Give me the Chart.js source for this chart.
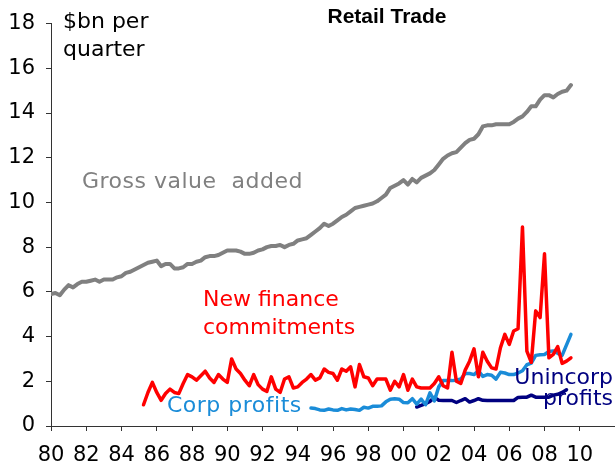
<!DOCTYPE html>
<html>
<head>
<meta charset="utf-8">
<script src="https://cdn.jsdelivr.net/npm/chart.js@4/dist/chart.umd.min.js"></script>
<style>
  body { margin: 0; background: #fff; }
  canvas { display: block; }
</style>
</head>
<body>
<canvas id="myChart" width="615" height="473"></canvas>
<script>
// quarterly series, $bn per quarter
let gvaStart = 1980;
let gva = [
    5.9, 5.95, 5.85, 6.1,   6.3, 6.2, 6.35, 6.45,   6.45, 6.5, 6.55, 6.45,
    6.55, 6.55, 6.55, 6.65, 6.7, 6.85, 6.9, 7.0,    7.1, 7.2, 7.3, 7.35,
    7.4, 7.15, 7.25, 7.25,  7.05, 7.05, 7.1, 7.25,  7.25, 7.35, 7.4, 7.55,
    7.6, 7.6, 7.65, 7.75,   7.85, 7.85, 7.85, 7.8,  7.7, 7.7, 7.75, 7.85,
    7.9, 8.0, 8.05, 8.05,   8.1, 8.0, 8.1, 8.15,    8.3, 8.35, 8.4, 8.55,
    8.7, 8.85, 9.05, 8.95,  9.05, 9.2, 9.35, 9.45,  9.6, 9.75, 9.8, 9.85,
    9.9, 9.95, 10.05, 10.2, 10.35, 10.65, 10.75, 10.85, 11.0, 10.8, 11.05, 10.9,
    11.1, 11.2, 11.3, 11.45, 11.7, 11.95, 12.1, 12.2, 12.25, 12.45, 12.65, 12.8,
    12.85, 13.05, 13.4, 13.45, 13.45, 13.5, 13.5, 13.5, 13.5, 13.6, 13.75, 13.85,
    14.05, 14.3, 14.3, 14.6, 14.8, 14.8, 14.7, 14.85, 14.95, 15.0, 15.25
];

let financeStart = 1985.25;
let finance = [
    0.95, 1.5, 1.95,
    1.5, 1.15, 1.45, 1.65,  1.5, 1.45, 1.9, 2.3,    2.2, 2.05, 2.25, 2.45,
    2.15, 1.95, 2.3, 2.1,   1.95, 3.0, 2.55, 2.35,  2.05, 1.8, 2.3, 1.85,
    1.65, 1.55, 2.2, 1.65,  1.5, 2.1, 2.2, 1.7,     1.75, 1.95, 2.1, 2.3,
    2.05, 2.15, 2.55, 2.4,  2.35, 2.05, 2.55, 2.45, 2.65, 1.75, 2.75, 2.2,
    2.15, 1.8, 2.1, 2.1,    2.1, 1.6, 2.0, 1.75,    2.3, 1.6, 2.1, 1.75,
    1.7, 1.7, 1.7, 1.9,     2.2, 1.8, 1.7, 3.3,     2.0, 1.9, 2.5, 2.9,
    3.45, 2.2, 3.3, 2.9,    2.6, 2.55, 3.5, 4.1,    3.65, 4.25, 4.35, 8.9,
    3.35, 2.85, 5.15, 4.85, 7.7, 3.05, 3.2, 3.55,   2.8, 2.9, 3.05
];

let corpStart = 1994.75;
let corp = [
    0.8,
    0.78, 0.72, 0.7, 0.76,  0.72, 0.7, 0.78, 0.72,  0.76, 0.74, 0.7, 0.84,
    0.8, 0.88, 0.88, 0.9,   1.08, 1.2, 1.22, 1.2,   1.05, 1.04, 1.22, 0.98,
    1.2, 0.95, 1.48, 1.12,  1.75, 2.03, 2.03, 2.03, 2.05, 2.1, 2.35, 2.35,
    2.3, 2.47, 2.22, 2.3,   2.27, 2.1, 2.4, 2.37,   2.3, 2.3, 2.37, 2.47,
    2.74, 2.81, 3.16, 3.19, 3.2, 3.33, 3.36, 3.25,  3.16, 3.63, 4.1
];

let unincStart = 2000.75;
let uninc = [
    0.85,
    0.92, 1.0, 1.1, 1.28,   1.15, 1.14, 1.14, 1.14, 1.05, 1.14, 1.22, 1.07,
    1.14, 1.22, 1.15, 1.14, 1.14, 1.14, 1.14, 1.14, 1.14, 1.14, 1.28, 1.29,
    1.29, 1.38, 1.29, 1.29, 1.29, 1.29, 1.38, 1.42, 1.5, 1.62
];

let yearTicks = [80, 82, 84, 86, 88, 90, 92, 94, 96, 98, 0, 2, 4, 6, 8, 10];

function toPoints(start, values) {
    return values.map((v, i) => ({ x: start + i / 4, y: v }));
}

Chart.defaults.font.family = 'DejaVu Sans';
Chart.defaults.color = '#000';

// free text on the chart (title, unit, series names)
let notes = {
    id: 'notes',
    afterDraw(chart) {
        let c = chart.ctx;
        c.save();
        c.textBaseline = 'middle';
        c.fillStyle = '#000';
        c.font = 'bold 21px "Liberation Sans"';
        c.textAlign = 'center';
        c.fillText('Retail Trade', 387, 17);

        c.font = '22px "DejaVu Sans"';
        c.textAlign = 'left';
        c.fillText('$bn per', 63, 22);
        c.fillText('quarter', 63, 50);

        c.letterSpacing = '0.5px';
        c.fillStyle = '#808080';
        c.fillText('Gross value  added', 82, 182);

        c.letterSpacing = '0px';
        c.fillStyle = '#ff0000';
        c.fillText('New finance', 203, 300);
        c.fillText('commitments', 203, 328);

        c.letterSpacing = '0.5px';
        c.fillStyle = '#1a8cd8';
        c.fillText('Corp profits', 167, 406);

        c.letterSpacing = '0px';
        c.fillStyle = '#000080';
        c.textAlign = 'right';
        c.fillText('Unincorp', 613, 378);
        c.fillText('profits', 613, 399);
        c.restore();
    }
};

let myChart = document.getElementById('myChart').getContext('2d');

let retailChart = new Chart(myChart, {
    type: 'line',
    data: {
        datasets: [
            {
                label: 'Gross value added',
                data: toPoints(gvaStart, gva),
                borderColor: '#808080',
                borderWidth: 4,
                order: 4
            },
            {
                label: 'New finance commitments',
                data: toPoints(financeStart, finance),
                borderColor: '#ff0000',
                borderWidth: 3.5,
                order: 1
            },
            {
                label: 'Corp profits',
                data: toPoints(corpStart, corp),
                borderColor: '#1a8cd8',
                borderWidth: 3.5,
                order: 2
            },
            {
                label: 'Unincorp profits',
                data: toPoints(unincStart, uninc),
                borderColor: '#000080',
                borderWidth: 3.5,
                order: 3
            }
        ]
    },
    options: {
        responsive: false,
        animation: false,
        layout: { padding: { left: 0, right: 0, top: 21, bottom: 0 } },
        elements: {
            point: { radius: 0 },
            line: { tension: 0, borderJoinStyle: 'round', borderCapStyle: 'round' }
        },
        plugins: {
            legend: { display: false },
            tooltip: { enabled: false }
        },
        scales: {
            x: {
                type: 'linear',
                min: 1980,
                max: 2012,
                afterFit: (s) => { s.height = 47; s.paddingRight = 0; },
                afterBuildTicks: (s) => {
                    s.ticks = [];
                    for (let y = 1980; y <= 2012; y += 2) s.ticks.push({ value: y });
                },
                ticks: {
                    autoSkip: false,
                    maxRotation: 0,
                    padding: 12,
                    font: { size: 21 },
                    callback: (v) => {
                        let i = (v - 1980) / 2;
                        if (i >= yearTicks.length) return '';
                        return String(yearTicks[i]).padStart(2, '0');
                    }
                },
                grid: { drawOnChartArea: false, drawTicks: true, tickLength: 5, color: '#333' },
                border: { display: true, color: '#333', width: 1 }
            },
            y: {
                min: 0,
                max: 18,
                afterFit: (s) => { s.width = 51; },
                ticks: { stepSize: 2, padding: 11, font: { size: 21 } },
                grid: { drawOnChartArea: false, drawTicks: true, tickLength: 5, color: '#333' },
                border: { display: true, color: '#333', width: 1 }
            }
        }
    },
    plugins: [notes]
});
</script>
</body>
</html>
